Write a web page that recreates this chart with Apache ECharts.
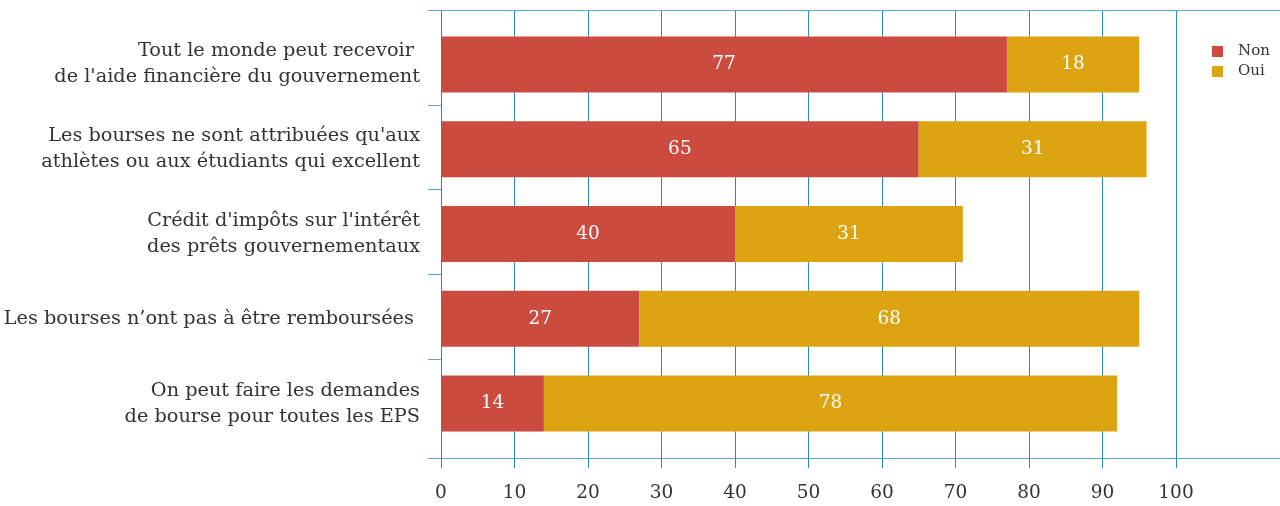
<!DOCTYPE html>
<html>
<head>
<meta charset="utf-8">
<script src="https://cdn.jsdelivr.net/npm/echarts@6/dist/echarts.min.js"></script>
<style>
html,body{margin:0;padding:0;background:#fff;}
#chart{width:1280px;height:506px;}
</style>
</head>
<body>
<div id="chart"></div>
<script>
const categories = [
  "Tout le monde peut recevoir \nde l'aide financière du gouvernement",
  "Les bourses ne sont attribuées qu'aux\nathlètes ou aux étudiants qui excellent",
  "Crédit d'impôts sur l'intérêt\ndes prêts gouvernementaux",
  "Les bourses n\u2019ont pas à être remboursées ",
  "On peut faire les demandes\nde bourse pour toutes les EPS"
];
const nonValues = [77, 65, 40, 27, 14];
const ouiValues = [18, 31, 31, 68, 78];
const seriesNames = ["Non", "Oui"];
const xTicks = [0, 10, 20, 30, 40, 50, 60, 70, 80, 90, 100];

const FONT = "DejaVu Serif";
const C_NON = "#cc4b3f";
const C_OUI = "#dda411";
const C_LINE = "#2f88bb";
const C_FRAME = "#5ea8cf";

const chart = echarts.init(document.getElementById('chart'), null, {renderer: 'canvas'});
const option = {
  backgroundColor: '#ffffff',
  animation: false,
  textStyle: {fontFamily: FONT},
  legend: {
    orient: 'vertical',
    left: 1207,
    top: 39,
    itemWidth: 11,
    itemHeight: 11,
    itemGap: 5,
    icon: 'rect',
    data: seriesNames,
    textStyle: {fontFamily: FONT, fontSize: 15, color: '#333', padding: [0, 0, 0, 10]}
  },
  grid: [
    {left: 428, right: 0, top: 10, bottom: 48},   // frame
    {left: 441, right: 104, top: 10, bottom: 48}, // value axis + grid lines
    {left: 441, right: 104, top: 22, bottom: 60}, // categories + bars
    {left: 428, right: 839, top: 105, bottom: 147} // category boundary ticks
  ],
  xAxis: [
    {gridIndex: 0, type: 'value', min: 0, max: 1, position: 'bottom',
     axisLine: {show: true, lineStyle: {color: C_FRAME, width: 1}},
     axisTick: {show: false}, axisLabel: {show: false}, splitLine: {show: false}},
    {gridIndex: 0, type: 'value', min: 0, max: 1, position: 'top',
     axisLine: {show: true, lineStyle: {color: C_FRAME, width: 1}},
     axisTick: {show: false}, axisLabel: {show: false}, splitLine: {show: false}},
    {gridIndex: 1, type: 'value', min: xTicks[0], max: xTicks[xTicks.length - 1], interval: 10,
     axisLine: {show: false},
     axisTick: {show: true, length: 10, lineStyle: {color: C_LINE, width: 1}},
     axisLabel: {show: true, margin: 26, color: '#333', fontSize: 18.5, fontFamily: FONT},
     splitLine: {show: true, lineStyle: {color: C_LINE, width: 1}}},
    {gridIndex: 2, type: 'value', min: xTicks[0], max: xTicks[xTicks.length - 1], show: false},
    {gridIndex: 3, type: 'value', min: 0, max: 1, show: false}
  ],
  yAxis: [
    {gridIndex: 0, type: 'value', min: 0, max: 1, show: false},
    {gridIndex: 1, type: 'value', min: 0, max: 1, show: false},
    {gridIndex: 2, type: 'category', inverse: true, data: categories,
     axisLine: {show: false}, axisTick: {show: false}, splitLine: {show: false},
     axisLabel: {show: true, margin: 21, color: '#333', fontSize: 19.3, fontFamily: FONT,
                 lineHeight: 26, align: 'right'}},
    {gridIndex: 3, type: 'value', min: 1, max: 4, interval: 1, inverse: true,
     position: 'left', offset: -13,
     axisLine: {show: false}, axisLabel: {show: false}, splitLine: {show: false},
     axisTick: {show: true, inside: false, length: 13, lineStyle: {color: C_FRAME, width: 1}}}
  ],
  series: [
    {name: seriesNames[0], type: 'bar', stack: 'total', xAxisIndex: 3, yAxisIndex: 2,
     barWidth: '66%', data: nonValues, itemStyle: {color: C_NON},
     label: {show: true, position: 'inside', color: '#fff', fontSize: 18.5, fontFamily: FONT}},
    {name: seriesNames[1], type: 'bar', stack: 'total', xAxisIndex: 3, yAxisIndex: 2,
     barWidth: '66%', data: ouiValues, itemStyle: {color: C_OUI},
     label: {show: true, position: 'inside', color: '#fff', fontSize: 18.5, fontFamily: FONT}}
  ]
};
chart.setOption(option);
</script>
</body>
</html>
